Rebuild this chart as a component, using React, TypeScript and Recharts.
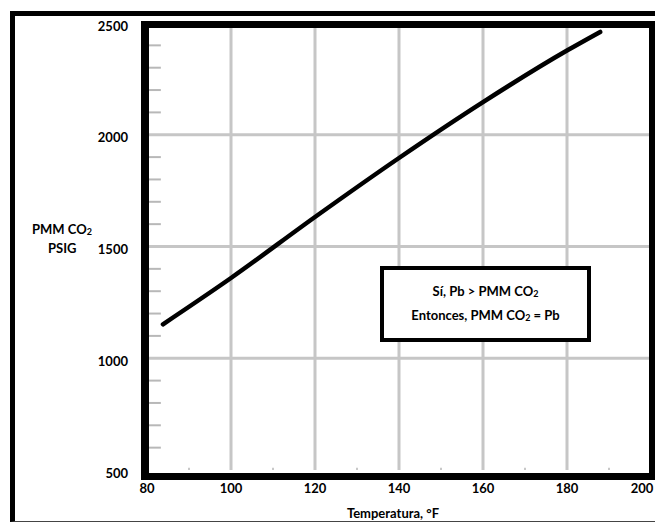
import React from "react";
import {
  LineChart,
  Line,
  XAxis,
  YAxis,
  ReferenceLine,
} from "recharts";

// Curve (temperature °F -> PMM CO2 psig)
const temps = [83.8, 100, 120, 140, 160, 180.2, 187.9];
const pmm = [1152, 1359, 1632, 1896, 2146, 2379, 2460];

const xTicks = [80, 100, 120, 140, 160, 180, 200];
const yTicks = [500, 1000, 1500, 2000, 2500];
const xGrid = [100, 120, 140, 160, 180];
const yGrid = [1000, 1500, 2000];
const yMinor = [600, 700, 800, 900, 1100, 1200, 1300, 1400, 1600, 1700, 1800, 1900, 2100, 2200, 2300, 2400];
const xMinor = [90, 110, 130, 150, 170, 190];

const data = temps.map((t, i) => ({ t, pmm: pmm[i] }));

const FONT = "Lato, 'Open Sans', sans-serif";
const GRID = "#c6c6c6";

const XTick = (props: any) => {
  const { x, y, payload } = props;
  const shift = payload.value === 200 ? -9 : 0;
  return (
    <text
      x={x + shift}
      y={y}
      dy="0.71em"
      textAnchor="middle"
      fontFamily={FONT}
      fontWeight="bold"
      fontSize={13}
      fill="#000"
    >
      {payload.value}
    </text>
  );
};

const Sub = ({ children }: { children: React.ReactNode }) => (
  <span style={{ fontSize: 9, position: "relative", top: 1 }}>{children}</span>
);

const App: React.FC = () => {
  return (
    <div
      style={{
        position: "absolute",
        left: 0,
        top: 0,
        width: 655,
        height: 523,
        overflow: "hidden",
        background: "#fff",
        fontFamily: FONT,
        fontWeight: "bold",
        fontSize: 13,
        color: "#000",
      }}
    >
      <LineChart
        width={655}
        height={523}
        data={data}
        margin={{ top: 23, right: 4, bottom: 23, left: 87 }}
      >
        <XAxis
          type="number"
          dataKey="t"
          domain={[80, 200]}
          ticks={xTicks}
          interval={0}
          axisLine={false}
          tickLine={false}
          tickSize={0}
          tickMargin={14}
          height={30}
          tick={<XTick />}
        />
        <YAxis
          type="number"
          domain={[500, 2500]}
          ticks={yTicks}
          interval={0}
          axisLine={false}
          tickLine={false}
          tickSize={0}
          tickMargin={19}
          width={60}
          tick={{ fontFamily: FONT, fontWeight: "bold", fontSize: 13, fill: "#000", dy: 3 }}
        />
        {xGrid.map((v) => (
          <ReferenceLine key={`xg-${v}`} x={v} stroke={GRID} strokeWidth={3} />
        ))}
        {yGrid.map((v) => (
          <ReferenceLine key={`yg-${v}`} y={v} stroke={GRID} strokeWidth={3} />
        ))}
        {yMinor.map((v) => (
          <ReferenceLine
            key={`ym-${v}`}
            segment={[
              { x: 80, y: v },
              { x: 83.3, y: v },
            ]}
            stroke="#b8b8b8"
            strokeWidth={2}
          />
        ))}
        {xMinor.map((v) => (
          <ReferenceLine
            key={`xm-${v}`}
            segment={[
              { x: v, y: 500 },
              { x: v, y: 510 },
            ]}
            stroke="#c8c8c8"
            strokeWidth={2}
          />
        ))}
        <Line
          type="monotone"
          dataKey="pmm"
          stroke="#000"
          strokeWidth={4.5}
          strokeLinecap="round"
          dot={false}
          isAnimationActive={false}
        />
      </LineChart>

      {/* outer frame */}
      <div
        style={{
          position: "absolute",
          left: 10,
          top: 11,
          width: 700,
          height: 511,
          boxSizing: "border-box",
          borderTop: "5px solid #000",
          borderLeft: "5px solid #000",
          borderBottom: "1px solid #444",
          pointerEvents: "none",
        }}
      />

      {/* plot border */}
      <div
        style={{
          position: "absolute",
          left: 141,
          top: 21,
          width: 515,
          height: 459,
          boxSizing: "border-box",
          border: "7px solid #000",
          borderLeftWidth: 8,
          pointerEvents: "none",
        }}
      />

      {/* y axis title */}
      <div style={{ position: "absolute", left: 32, top: 221, lineHeight: "16px" }}>
        PMM CO<Sub>2</Sub>
      </div>
      <div style={{ position: "absolute", left: 48, top: 240, lineHeight: "16px" }}>
        PSIG
      </div>

      {/* x axis title */}
      <div
        style={{
          position: "absolute",
          left: 293,
          width: 200,
          top: 505,
          textAlign: "center",
          lineHeight: "16px",
        }}
      >
        Temperatura, °F
      </div>

      {/* note box */}
      <div
        style={{
          position: "absolute",
          left: 380,
          top: 266,
          width: 211,
          height: 76,
          boxSizing: "border-box",
          border: "4px solid #000",
          background: "#fff",
          display: "flex",
          flexDirection: "column",
          justifyContent: "center",
          alignItems: "center",
          lineHeight: "22px",
        }}
      >
        <div>
          Sí, Pb &gt; PMM CO<Sub>2</Sub>
        </div>
        <div>
          Entonces, PMM CO<Sub>2</Sub> = Pb
        </div>
      </div>
    </div>
  );
};

export default App;
